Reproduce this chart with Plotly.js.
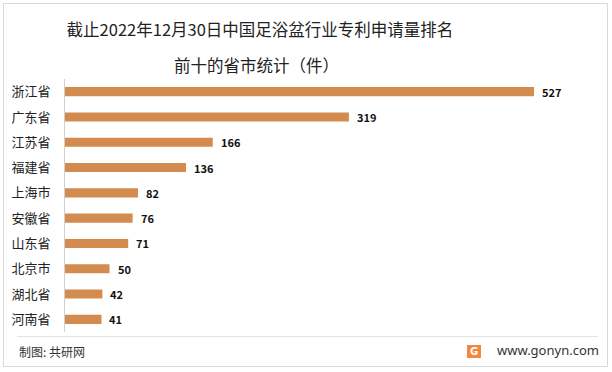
<!DOCTYPE html>
<html>
<head>
<meta charset="utf-8">
<script src="https://cdn.plot.ly/plotly-3.0.1.min.js"></script>
<style>
html,body{margin:0;padding:0;background:#fff;}
#chart{width:612px;height:372px;}
</style>
</head>
<body>
<div id="chart"></div>
<script>
var provinces = ["浙江省","广东省","江苏省","福建省","上海市","安徽省","山东省","北京市","湖北省","河南省"];
var patentCounts = [527, 319, 166, 136, 82, 76, 71, 50, 42, 41];
var titleLine1 = "截止2022年12月30日中国足浴盆行业专利申请量排名";
var titleLine2 = "前十的省市统计（件）";
var sourceText = "制图: 共研网";
var siteText = "www.gonyn.com";

var W = 612, H = 372;
var L = 65, R = 13, T = 79, B = 40;
var pw = W - L - R, ph = H - T - B;
function px(x){ return (x - L) / pw; }
function py(y){ return (H - B - y) / ph; }

var font = "Noto Sans CJK SC, Microsoft YaHei, sans-serif";

var trace = {
  type: "bar",
  orientation: "h",
  y: provinces,
  x: patentCounts,
  marker: {color: "#D48B4F"},
  width: 0.36,
  hoverinfo: "none"
};

var annotations = [];

// faint watermarks (drawn first so they sit underneath)
var wm = [[150,45],[380,125],[560,40],[170,255],[470,235],[560,345]];
wm.forEach(function(w){
  annotations.push({
    xref: "paper", yref: "paper", x: px(w[0]), y: py(w[1]),
    text: "<b>共研网</b><br>w w w . g o n y n . c o m", showarrow: false,
    textangle: -15,
    font: {family: font, size: 18, color: "rgba(0,0,0,0.022)"}
  });
});

provinces.forEach(function(p, i){
  annotations.push({
    x: patentCounts[i], y: p, xref: "x", yref: "y",
    text: String(patentCounts[i]),
    showarrow: false, xanchor: "left", xshift: 6,
    font: {family: font, size: 11, color: "#111", weight: 700}
  });
});

annotations.push({
  xref: "paper", yref: "paper", x: px(256), y: py(65),
  text: titleLine2, showarrow: false, xanchor: "center", yanchor: "middle",
  font: {family: font, size: 16.5, color: "#222"}
});
annotations.push({
  xref: "paper", yref: "paper", x: px(17), y: py(351),
  text: sourceText, showarrow: false, xanchor: "left", yanchor: "middle",
  font: {family: font, size: 12, color: "#333"}
});
annotations.push({
  xref: "paper", yref: "paper", x: px(601), y: py(350),
  text: siteText, showarrow: false, xanchor: "right", yanchor: "middle",
  font: {family: "Noto Sans, DejaVu Sans, sans-serif", size: 13, color: "#333"}
});
annotations.push({
  xref: "paper", yref: "paper", x: px(474), y: py(351.5),
  text: "<b>G</b>", showarrow: false, xanchor: "center", yanchor: "middle",
  font: {family: "DejaVu Sans, sans-serif", size: 10, color: "#fff"}
});

var shapes = [
  {type: "rect", xref: "paper", yref: "paper", x0: px(3.5), x1: px(607.5), y0: py(366.5), y1: py(3.5),
   line: {color: "#D9D9D9", width: 1}, fillcolor: "rgba(0,0,0,0)", layer: "below"},
  {type: "line", xref: "paper", yref: "paper", x0: px(17), x1: px(598), y0: py(336.5), y1: py(336.5),
   line: {color: "#E3E3E3", width: 1}},
  {type: "rect", xref: "paper", yref: "paper", x0: px(467), x1: px(481), y0: py(358), y1: py(345),
   line: {width: 0}, fillcolor: "#F2883A"}
];

var layout = {
  width: W, height: H,
  margin: {l: L, r: R, t: T, b: B, pad: 0},
  paper_bgcolor: "#fff", plot_bgcolor: "#fff",
  title: {
    text: titleLine1,
    x: px(260), xref: "paper", xanchor: "center",
    y: 1 - 30 / H, yref: "container", yanchor: "middle",
    font: {family: font, size: 16.5, color: "#222"}
  },
  xaxis: {range: [0, 600], showgrid: false, zeroline: false, showline: false,
          showticklabels: false, ticks: "", fixedrange: true},
  yaxis: {autorange: "reversed", type: "category", showgrid: false, zeroline: false,
          showline: true, linecolor: "#D0D0D0", linewidth: 1, ticks: "",
          ticklabelstandoff: 11,
          tickfont: {family: font, size: 13, color: "#222"}, fixedrange: true},
  showlegend: false,
  bargap: 0.6,
  annotations: annotations,
  shapes: shapes
};

Plotly.newPlot("chart", [trace], layout, {displayModeBar: false, staticPlot: true});
</script>
</body>
</html>
